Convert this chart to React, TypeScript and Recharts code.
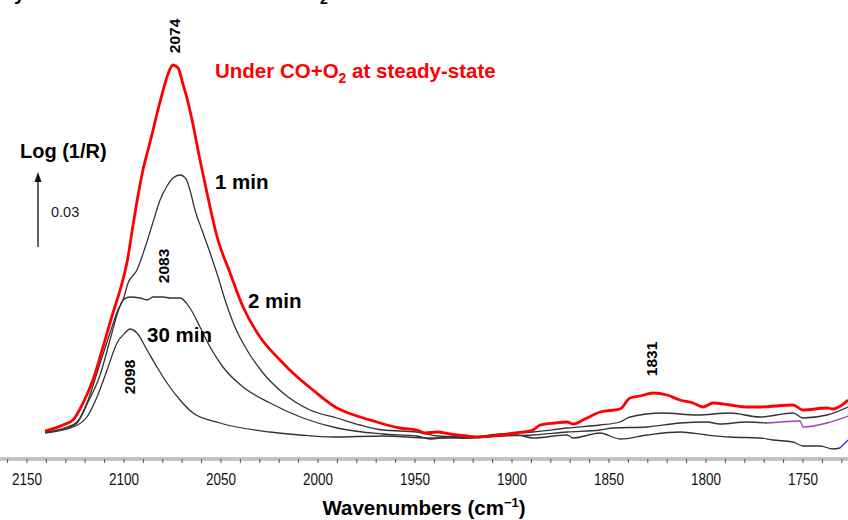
import React from "react"
import { LineChart, Line, XAxis, YAxis } from "recharts"

// wavenumber (cm-1) / Log(1/R)
const redWn = [2140.7, 2131.4, 2126.3, 2121.1, 2116.0, 2110.8, 2105.7, 2102.0, 2098.4, 2095.3, 2092.8, 2090.2, 2087.6, 2085.0, 2082.5, 2079.9, 2077.3, 2074.7, 2072.1, 2069.6, 2067.0, 2064.9, 2060.8, 2057.2, 2052.0, 2045.3, 2038.6, 2029.9, 2019.6, 2012.9, 2002.6, 1990.2, 1979.9, 1969.6, 1964.4, 1957.7, 1949.0, 1944.8, 1938.6, 1931.9, 1923.2, 1916.5, 1906.2, 1898.4, 1889.2, 1885.5, 1877.8, 1871.6, 1868.5, 1862.4, 1854.6, 1844.3, 1839.2, 1834.0, 1827.3, 1820.1, 1813.4, 1806.7, 1801.5, 1796.4, 1787.6, 1778.9, 1772.2, 1755.1, 1750.0, 1737.6, 1734.5, 1726.8]
const redAbs = [0.0112, 0.0136, 0.0156, 0.0224, 0.0316, 0.0448, 0.0584, 0.0676, 0.0788, 0.0936, 0.1052, 0.1156, 0.1236, 0.1316, 0.1396, 0.1472, 0.1540, 0.1576, 0.1564, 0.1500, 0.1428, 0.1356, 0.1196, 0.1064, 0.0888, 0.0744, 0.0608, 0.0488, 0.0396, 0.0344, 0.0276, 0.0204, 0.0172, 0.0148, 0.0136, 0.0124, 0.0116, 0.0104, 0.0108, 0.0100, 0.0092, 0.0088, 0.0096, 0.0104, 0.0116, 0.0136, 0.0144, 0.0148, 0.0140, 0.0160, 0.0188, 0.0200, 0.0244, 0.0252, 0.0264, 0.0256, 0.0236, 0.0224, 0.0208, 0.0224, 0.0216, 0.0208, 0.0208, 0.0216, 0.0196, 0.0204, 0.0200, 0.0236]

const min1Wn = [2140.7, 2129.4, 2124.2, 2118.5, 2113.4, 2107.2, 2103.1, 2100.5, 2097.9, 2093.3, 2089.2, 2085.0, 2081.4, 2077.8, 2074.7, 2071.1, 2068.0, 2066.0, 2063.4, 2059.8, 2055.6, 2051.5, 2047.9, 2042.8, 2036.6, 2028.3, 2018.0, 2004.1, 1990.2, 1978.3, 1966.5, 1949.0, 1938.6, 1923.2, 1906.2, 1889.2, 1871.6, 1854.6, 1844.3, 1839.2, 1822.2, 1804.6, 1787.6, 1772.2, 1755.1, 1750.0, 1737.6, 1726.8]
const min1Abs = [0.0108, 0.0128, 0.0148, 0.0236, 0.0356, 0.0504, 0.0596, 0.0636, 0.0704, 0.0756, 0.0844, 0.0948, 0.1036, 0.1092, 0.1124, 0.1136, 0.1120, 0.1076, 0.0996, 0.0916, 0.0824, 0.0728, 0.0636, 0.0528, 0.0436, 0.0344, 0.0264, 0.0196, 0.0164, 0.0136, 0.0116, 0.0108, 0.0092, 0.0088, 0.0100, 0.0108, 0.0124, 0.0136, 0.0148, 0.0168, 0.0184, 0.0176, 0.0184, 0.0168, 0.0184, 0.0164, 0.0176, 0.0208]

const min2Wn = [2140.7, 2129.4, 2124.2, 2118.5, 2112.3, 2107.2, 2103.1, 2100.5, 2096.9, 2091.7, 2088.1, 2085.0, 2079.9, 2076.3, 2071.1, 2066.0, 2060.8, 2055.6, 2049.0, 2038.6, 2024.7, 2007.7, 1990.2, 1966.5, 1949.0, 1942.3, 1931.9, 1923.2, 1906.2, 1889.2, 1871.6, 1854.6, 1847.9, 1830.4, 1813.4, 1799.5, 1792.8, 1778.9, 1768.5]
const min2Abs = [0.0108, 0.0124, 0.0144, 0.0228, 0.0336, 0.0476, 0.0588, 0.0636, 0.0648, 0.0644, 0.0636, 0.0648, 0.0648, 0.0644, 0.0644, 0.0604, 0.0528, 0.0448, 0.0368, 0.0288, 0.0224, 0.0164, 0.0124, 0.0100, 0.0092, 0.0080, 0.0088, 0.0084, 0.0092, 0.0096, 0.0108, 0.0116, 0.0124, 0.0128, 0.0144, 0.0148, 0.0140, 0.0148, 0.0144]
const min2TailWn = [1768.5, 1761.8, 1751.5, 1750.0, 1737.6, 1726.8]
const min2TailAbs = [0.0144, 0.0148, 0.0152, 0.0128, 0.0144, 0.0172]

const min30Wn = [2140.7, 2126.3, 2119.1, 2113.9, 2108.7, 2103.6, 2099.5, 2096.9, 2093.3, 2088.1, 2083.0, 2077.8, 2071.1, 2064.4, 2050.5, 2024.7, 2009.3, 1992.3, 1966.5, 1942.3, 1923.2, 1906.2, 1897.4, 1889.2, 1871.6, 1868.5, 1854.6, 1844.3, 1830.4, 1813.4, 1799.5, 1787.6, 1772.2, 1765.5, 1755.1, 1750.0, 1741.2, 1734.5, 1730.9]
const min30Abs = [0.0104, 0.0128, 0.0168, 0.0248, 0.0356, 0.0464, 0.0504, 0.0520, 0.0504, 0.0436, 0.0368, 0.0304, 0.0236, 0.0184, 0.0144, 0.0108, 0.0096, 0.0088, 0.0092, 0.0084, 0.0084, 0.0092, 0.0096, 0.0084, 0.0096, 0.0084, 0.0104, 0.0080, 0.0096, 0.0108, 0.0096, 0.0088, 0.0084, 0.0076, 0.0068, 0.0052, 0.0052, 0.0040, 0.0044]
const min30TailWn = [1730.9, 1729.4, 1726.8]
const min30TailAbs = [0.0044, 0.0056, 0.0076]

const majorTicks = [2150, 2100, 2050, 2000, 1950, 1900, 1850, 1800, 1750]
const allTicks = [2160, 2150, 2140, 2130, 2120, 2110, 2100, 2090, 2080, 2070, 2060, 2050, 2040, 2030, 2020, 2010, 2000, 1990, 1980, 1970, 1960, 1950, 1940, 1930, 1920, 1910, 1900, 1890, 1880, 1870, 1860, 1850, 1840, 1830, 1820, 1810, 1800, 1790, 1780, 1770, 1760, 1750, 1740, 1730]

const toPoints = (wn: number[], abs: number[]) => wn.map((w, i) => ({ w, v: abs[i] }))

const font = "'Liberation Sans', Arial, sans-serif"

function Tick(props: any) {
  const { x, y, payload } = props
  if (!majorTicks.includes(payload.value)) return null
  return (
    <text
      x={x}
      y={y + 20}
      textAnchor="middle"
      fontFamily="'Liberation Sans Narrow', 'Liberation Sans', Arial, sans-serif"
      fontSize={16}
      textLength={30}
      lengthAdjust="spacingAndGlyphs"
      fill="#111"
    >
      {payload.value}
    </text>
  )
}

const series = [
  { wn: min30Wn, abs: min30Abs, color: "#333", width: 1.3 },
  { wn: min30TailWn, abs: min30TailAbs, color: "#2030e0", width: 1.3 },
  { wn: min2Wn, abs: min2Abs, color: "#333", width: 1.3 },
  { wn: min2TailWn, abs: min2TailAbs, color: "#a040b0", width: 1.3 },
  { wn: min1Wn, abs: min1Abs, color: "#333", width: 1.3 },
  { wn: redWn, abs: redAbs, color: "#ff0000", width: 2.8 },
]

export default function App() {
  return (
    <div style={{ position: "absolute", left: 0, top: 0, width: 848, height: 520, background: "#fff" }}>
      <LineChart width={848} height={520} margin={{ top: 0, right: 0, bottom: 0, left: 0 }}>
        <XAxis
          dataKey="w"
          type="number"
          domain={[1726.8, 2163.9]}
          reversed
          ticks={allTicks}
          interval={0}
          height={61}
          axisLine={{ stroke: "#c4c4c4", strokeWidth: 4 }}
          tickLine={{ stroke: "#555" }}
          tickSize={4}
          tick={<Tick />}
        />
        <YAxis hide type="number" domain={[0, 0.1836]} />
        {series.map((s, i) => (
          <Line
            key={i}
            data={toPoints(s.wn, s.abs)}
            dataKey="v"
            type="monotone"
            stroke={s.color}
            strokeWidth={s.width}
            dot={false}
            activeDot={false}
            isAnimationActive={false}
          />
        ))}
      </LineChart>
      <svg width={848} height={520} style={{ position: "absolute", left: 0, top: 0, pointerEvents: "none" }} fontFamily={font}>
        <text x={14} y={0} fontSize={20} fontWeight="bold">y</text>
        <text x={320} y={4} fontSize={14} fontWeight="bold">2</text>
        <text transform="translate(180,36) rotate(-90)" textAnchor="middle" fontSize={15.5} fontWeight="bold">2074</text>
        <text x={215} y={78} fontSize={20.5} fontWeight="bold" fill="#ff0000">
          Under CO+O<tspan fontSize={14} dy={5}>2</tspan><tspan dy={-5}> at steady-state</tspan>
        </text>
        <text x={20} y={158} fontSize={20} fontWeight="bold">Log (1/R)</text>
        <line x1={38} y1={247} x2={38} y2={180} stroke="#111" strokeWidth={1.3} />
        <polygon points="38,172 34.5,182 41.5,182" fill="#111" />
        <text x={51} y={217} fontSize={14.5} fill="#222">0.03</text>
        <text x={215} y={189} fontSize={20.5} fontWeight="bold">1 min</text>
        <text transform="translate(169,266) rotate(-90)" textAnchor="middle" fontSize={15.5} fontWeight="bold">2083</text>
        <text x={248} y={308} fontSize={20.5} fontWeight="bold">2 min</text>
        <text x={147} y={342} fontSize={20.5} fontWeight="bold">30 min</text>
        <text transform="translate(135,377) rotate(-90)" textAnchor="middle" fontSize={15.5} fontWeight="bold">2098</text>
        <text transform="translate(657,359) rotate(-90)" textAnchor="middle" fontSize={15.5} fontWeight="bold">1831</text>
        <text x={424} y={515} textAnchor="middle" fontSize={20.5} fontWeight="bold">
          Wavenumbers (cm<tspan fontSize={13} dy={-8}>−1</tspan><tspan dy={8}>)</tspan>
        </text>
      </svg>
    </div>
  )
}
